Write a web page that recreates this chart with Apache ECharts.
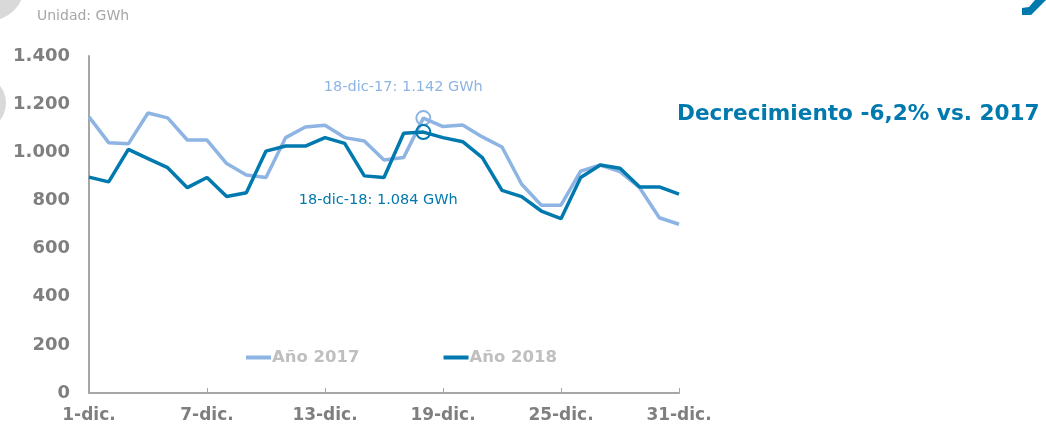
<!DOCTYPE html>
<html>
<head>
<meta charset="utf-8">
<script src="https://cdn.jsdelivr.net/npm/echarts@6/dist/echarts.min.js"></script>
<style>html,body{margin:0;padding:0;background:#fff}#c{width:1046px;height:424px}</style>
</head>
<body>
<div id="c"></div>
<script>
const days = [];
for (let d = 1; d <= 31; d++) days.push(d + '-dic.');
const serie2017 = [1147,1040,1035,1163,1143,1051,1051,953,906,895,1061,1105,1112,1061,1047,968,978,1142,1107,1113,1064,1022,867,780,780,922,947,920,853,728,701];
const serie2018 = [897,877,1012,974,936,853,895,816,832,1005,1026,1026,1061,1037,902,895,1079,1084,1061,1044,978,842,816,756,724,895,947,934,856,856,826];
const yTicks = [0,200,400,600,800,1000,1200,1400];
const names = ['Año 2017','Año 2018'];
const highlightIndex = 17;
const noteTitle = 'Decrecimiento -6,2% vs. 2017';
const unitText = 'Unidad: GWh';

const C17 = '#8DB4E2', C18 = '#0079AE';
const fmt = v => String(v).replace(/\B(?=(\d{3})+(?!\d))/g, '.');
const F = '"DejaVu Sans", Verdana, sans-serif';

const chart = echarts.init(document.getElementById('c'), null, {renderer:'canvas'});
function mp(color, val, label, off) {
  return {
    symbol: 'circle', symbolSize: 14, silent: true,
    itemStyle: {color: 'rgba(255,255,255,0)', borderColor: color, borderWidth: 2},
    label: {show: true, formatter: label, color: color, fontFamily: F, fontSize: 14.5, offset: off, position: 'inside'},
    data: [{coord: [highlightIndex, val]}]
  };
}
chart.setOption({
  animation: false,
  textStyle: {fontFamily: F},
  grid: {left: 89, right: 367, top: 56, bottom: 31},
  graphic: [
    {type: 'circle', shape: {cx: -12, cy: -16, r: 37}, style: {fill: '#D9D9D9'}},
    {type: 'circle', shape: {cx: -22, cy: 103, r: 28}, style: {fill: '#D9D9D9'}},
    {type: 'polygon', shape: {points: [[1022,15],[1022,8],[1029,7],[1035,0],[1046,0],[1031,15]]}, style: {fill: C18}},
    {type: 'text', left: 37, top: 9, style: {text: unitText, fill: '#A6A6A6', font: '14px ' + F}},
    {type: 'text', left: 677, top: 103, style: {text: noteTitle, fill: C18, font: 'bold 21.6px ' + F}}
  ],
  legend: {
    left: 241, top: 344, itemGap: 84, itemWidth: 25, itemHeight: 4, icon: 'rect',
    data: names,
    textStyle: {color: '#BFBFBF', fontWeight: 'bold', fontSize: 16.5, fontFamily: F, padding: [0,0,0,-4]}
  },
  xAxis: {
    type: 'category', data: days, boundaryGap: false,
    axisLine: {lineStyle: {color: '#A6A6A6', width: 2}},
    axisTick: {inside: true, length: 5, interval: 5, lineStyle: {color: '#A6A6A6'}},
    axisLabel: {interval: 5, color: '#7F7F7F', fontWeight: 'bold', fontSize: 17, margin: 14, fontFamily: F}
  },
  yAxis: {
    type: 'value', min: 0, max: 1400, interval: 200,
    axisLine: {show: true, lineStyle: {color: '#A6A6A6', width: 2}},
    axisTick: {show: false},
    splitLine: {show: false},
    axisLabel: {color: '#7F7F7F', fontWeight: 'bold', fontSize: 18, margin: 19, fontFamily: F, formatter: v => fmt(v)}
  },
  series: [
    {name: names[0], type: 'line', data: serie2017, symbol: 'none', lineStyle: {color: C17, width: 3.5}, itemStyle: {color: C17},
     markPoint: mp(C17, serie2017[highlightIndex], '18-dic-17: ' + fmt(serie2017[highlightIndex]) + ' GWh', [-20, -31])},
    {name: names[1], type: 'line', data: serie2018, symbol: 'none', lineStyle: {color: C18, width: 3.5}, itemStyle: {color: C18},
     markPoint: mp(C18, serie2018[highlightIndex], '18-dic-18: ' + fmt(serie2018[highlightIndex]) + ' GWh', [-45, 68])}
  ]
});
</script>
</body>
</html>
